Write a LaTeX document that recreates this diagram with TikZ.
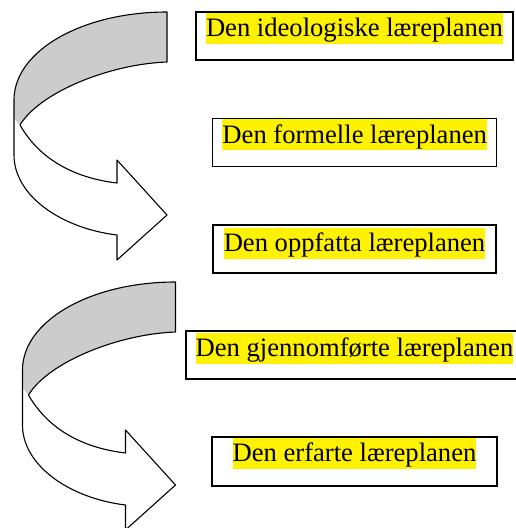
\documentclass[tikz,border=0pt]{standalone}
\usepackage{fontspec}
\setmainfont{Liberation Serif}
\usepackage{tikz}
\usetikzlibrary{positioning}

% one curved ribbon arrow, drawn in pixel units
\newcommand{\bendarrow}{%
\fill [ribbonback] (167,12) .. controls (82,12) and (14,51) .. (14,100) -- (14,118) -- (20,125) .. controls (40,92) and (110,64) .. (167,62) -- cycle;
\draw [ribbon] (20,125) .. controls (40,92) and (110,64) .. (167,62) -- (167,12)
  .. controls (82,12) and (14,51) .. (14,100) -- (14,155)
  .. controls (14,195) and (60,228) .. (117,235) -- (117,260) -- (167,215) -- (117,160) -- (117,183)
  .. controls (75,178) and (40,160) .. (20,125);
}

\begin{document}
\begin{tikzpicture}[x=1pt,y=-1pt,
  ribbon/.style={black,line width=1.1pt,line join=round},
  ribbonback/.style={fill=black!20},
  lbox/.style={draw=black,line width=1.3pt,minimum height=48pt,inner sep=0pt},
  hl/.style={fill=yellow,inner sep=0pt,text height=24pt,text depth=7pt,
    font=\fontsize{26.6}{30}\selectfont,anchor=north}]
\useasboundingbox (0,0) rectangle (516,528);
\clip (0,0) rectangle (516,528);
% arrows
\begin{scope}
\bendarrow
\end{scope}
\begin{scope}[shift={(8.5,270)}]
\bendarrow
\end{scope}
% boxes
\node [lbox,minimum width=317pt] (ideo) at (354.5,36) {};
\node [hl,below=1pt of ideo.north] (ideot) {Den ideologiske læreplanen};
\node [lbox,minimum width=284pt] (form) at (354.7,142.5) {};
\node [hl,below=1pt of form.north] (formt) {Den formelle læreplanen};
\node [lbox,minimum width=283pt] (oppf) at (354.5,249) {};
\node [hl,below=3pt of oppf.north] (oppft) {Den oppfatta læreplanen};
\node [lbox,minimum width=337pt] (gjen) at (354.5,355) {};
\node [hl,below=2pt of gjen.north] (gjent) {Den gjennomførte læreplanen};
\node [lbox,minimum width=285pt,minimum height=49pt] (erf) at (354.5,461.5) {};
\node [hl,below=1pt of erf.north] (erft) {Den erfarte læreplanen};
\end{tikzpicture}
\end{document}
